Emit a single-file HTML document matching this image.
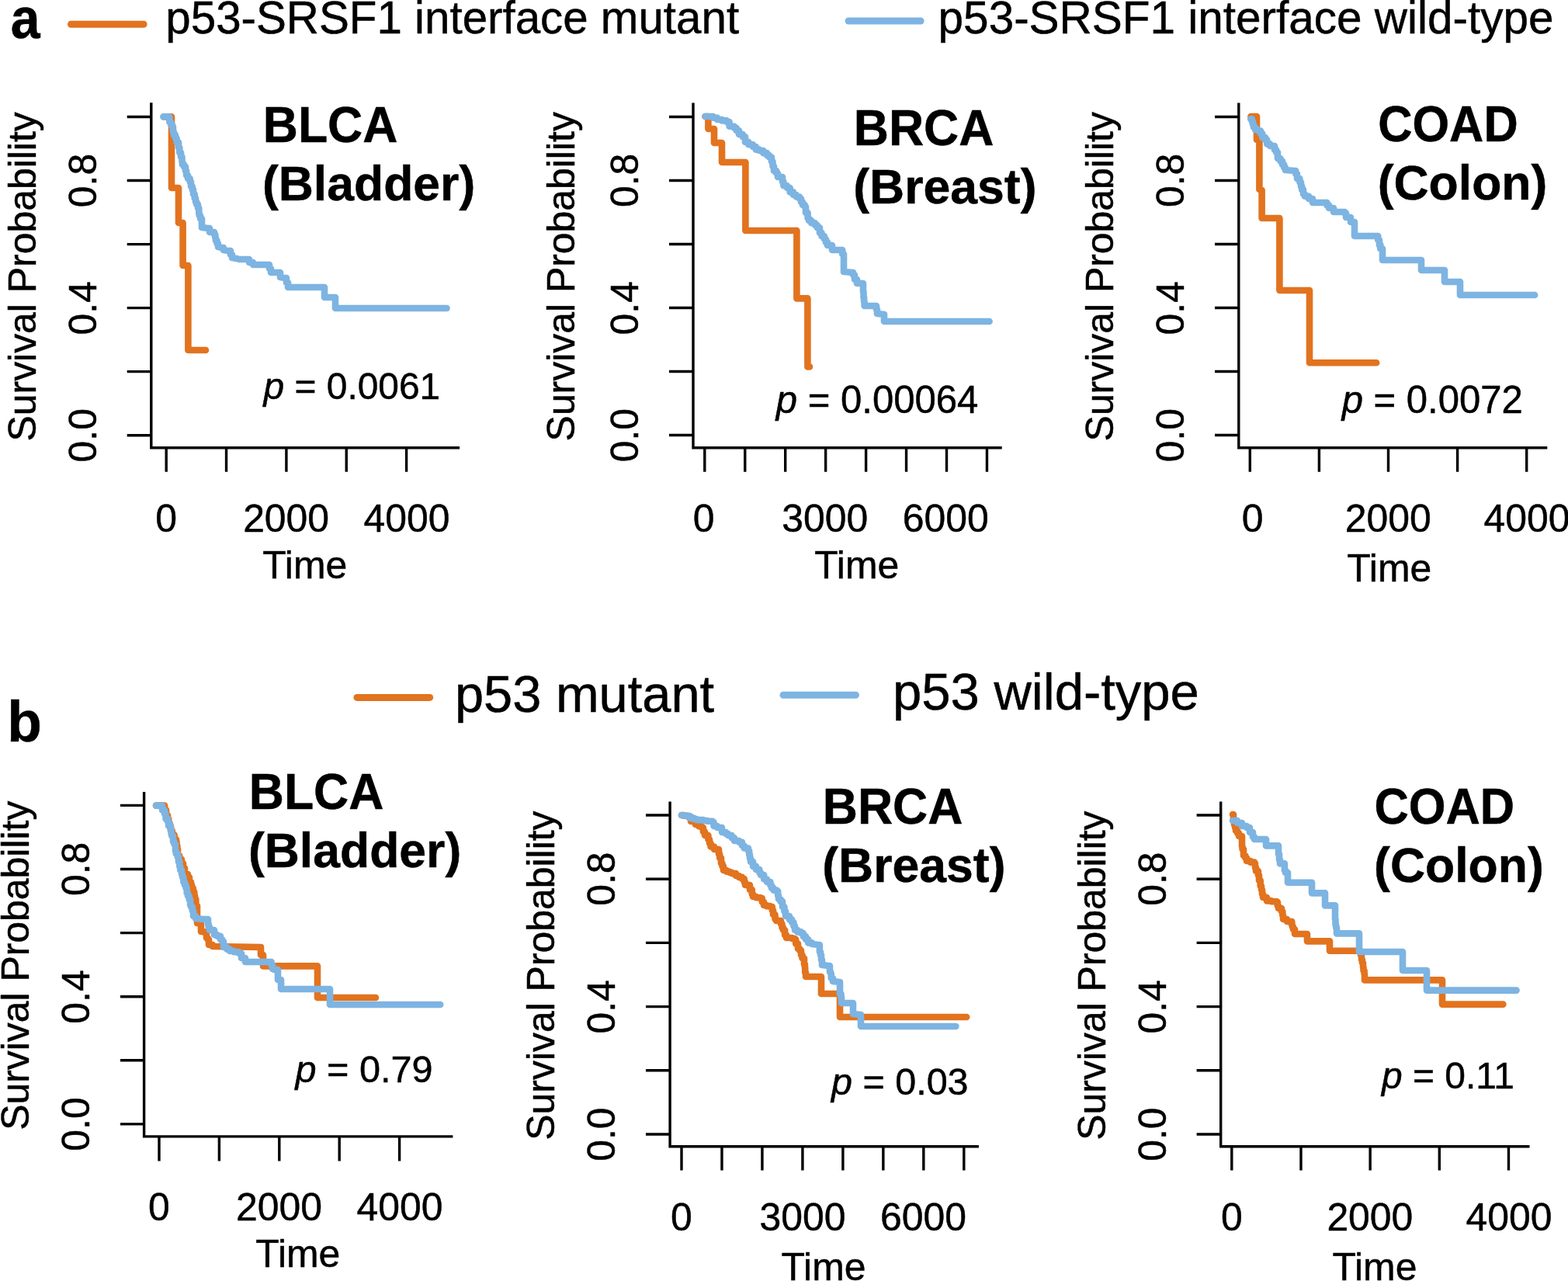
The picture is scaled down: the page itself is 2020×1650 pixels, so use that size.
<!DOCTYPE html>
<html lang="en"><head><meta charset="utf-8"><title>Survival curves</title>
<style>
html,body{margin:0;padding:0;background:#fff;}
body{width:2020px;height:1650px;overflow:hidden;}
svg{display:block;font-family:"Liberation Sans",Arial,Helvetica,sans-serif;fill:#000;}
text{stroke:#000;stroke-width:0.5px;stroke-linejoin:round;}
</style></head><body>
<svg width="2020" height="1650" viewBox="0 0 2020 1650">
<rect width="2020" height="1650" fill="#fff"/>
<text transform="translate(13.86,49.30) scale(0.92,1.0)" font-size="74.00" font-weight="700">a</text>
<line x1="91.50" y1="31.20" x2="185.10" y2="31.20" stroke="#e2731f" stroke-width="9.0" stroke-linecap="round"/>
<text x="213.31" y="43.30" font-size="58.30">p53-SRSF1 interface mutant</text>
<line x1="1093.10" y1="27.00" x2="1186.10" y2="27.00" stroke="#7db4e2" stroke-width="9.0" stroke-linecap="round"/>
<text x="1208.60" y="43.30" font-size="58.47">p53-SRSF1 interface wild-type</text>
<text transform="translate(9.36,954.50) scale(1,1.01)" font-size="73.00" font-weight="700">b</text>
<line x1="459.90" y1="898.40" x2="553.70" y2="898.40" stroke="#e2731f" stroke-width="9.0" stroke-linecap="round"/>
<text x="585.96" y="916.70" font-size="66.80">p53 mutant</text>
<line x1="1009.00" y1="895.20" x2="1102.40" y2="895.20" stroke="#7db4e2" stroke-width="9.0" stroke-linecap="round"/>
<text x="1150.04" y="913.70" font-size="67.03">p53 wild-type</text>
<polyline points="211.0,150.4 221.0,150.4 221.0,196.0 221.0,197.0 221.0,242.0 230.0,242.0 230.0,287.0 235.6,287.0 235.6,342.0 242.4,342.0 242.4,451.0 265.0,451.0" fill="none" stroke="#e2731f" stroke-width="8.6" stroke-linecap="round" stroke-linejoin="round"/>
<polyline points="210.4,150.4 216.0,150.4 218.3,150.4 218.3,157.2 220.0,157.2 220.0,160.0 221.7,160.0 221.7,163.2 223.0,163.2 223.0,170.0 224.0,170.0 224.0,173.9 226.0,173.9 226.0,178.0 227.6,178.0 227.6,183.4 230.0,183.4 230.0,190.0 231.3,190.0 231.3,196.6 233.0,196.6 233.0,202.0 234.5,202.0 234.5,208.5 235.0,208.5 235.0,212.0 237.1,212.0 237.1,214.9 239.0,214.9 239.0,220.0 240.1,220.0 240.1,225.8 242.0,225.8 242.0,230.0 244.7,230.0 244.7,234.2 246.0,234.2 246.0,240.0 247.7,240.0 247.7,244.2 249.0,244.2 249.0,250.0 250.7,250.0 250.7,255.2 252.0,255.2 252.0,260.0 253.2,260.0 253.2,263.3 255.0,263.3 255.0,268.0 256.3,268.0 256.3,275.4 257.0,275.4 257.0,278.0 258.2,278.0 258.2,281.7 260.0,281.7 260.0,288.0 260.0,293.0 268.0,294.0 270.0,294.0 270.0,299.0 276.0,299.0 276.0,302.0 277.3,302.0 277.3,306.2 278.0,306.2 278.0,310.0 279.6,310.0 279.6,313.8 281.0,313.8 281.0,318.0 286.0,319.0 288.0,319.0 288.0,322.0 294.0,323.0 297.0,323.0 297.0,328.0 299.0,328.0 299.0,332.0 305.0,333.0 308.0,334.0 318.0,334.0 321.0,334.0 321.0,338.0 326.0,338.0 326.0,341.0 344.0,341.0 347.0,341.0 347.0,346.0 349.0,346.0 349.0,351.0 359.0,351.0 361.0,351.0 361.0,357.0 367.0,358.0 369.0,358.0 369.0,364.0 371.0,364.0 371.0,370.0 418.0,370.0 418.0,383.0 432.0,383.0 432.0,397.0 575.6,397.0" fill="none" stroke="#7db4e2" stroke-width="8.6" stroke-linecap="round" stroke-linejoin="round"/>
<path d="M194.80,132.20 V576.70 H592.10 M163.70,150.50 H194.80 M163.70,232.54 H194.80 M163.70,314.58 H194.80 M163.70,396.62 H194.80 M163.70,478.66 H194.80 M163.70,560.70 H194.80 M214.20,576.70 V607.80 M291.55,576.70 V607.80 M368.90,576.70 V607.80 M446.25,576.70 V607.80 M523.60,576.70 V607.80" fill="none" stroke="#000" stroke-width="3.4" stroke-linecap="butt" stroke-linejoin="miter"/>
<text x="200.29" y="685.00" font-size="49.90">0</text>
<text x="313.14" y="685.00" font-size="49.90">2000</text>
<text x="468.52" y="685.00" font-size="49.90">4000</text>
<text x="338.18" y="745.00" font-size="49.90">Time</text>
<text transform="translate(45.80,568.50) rotate(-90)" font-size="49.90">Survival Probability</text>
<text transform="translate(123.50,267.16) rotate(-90)" font-size="49.90">0.8</text>
<text transform="translate(123.50,431.61) rotate(-90)" font-size="49.90">0.4</text>
<text transform="translate(123.50,595.44) rotate(-90)" font-size="49.90">0.0</text>
<text transform="translate(338.78,183.00) scale(1,1.04)" font-size="62.50" font-weight="700">BLCA</text>
<text x="337.88" y="257.60" font-size="62.50" font-weight="700">(Bladder)</text>
<text x="339.60" y="514.30" font-size="47.87" xml:space="preserve"><tspan font-style="italic">p</tspan> = 0.0061</text>
<polyline points="908.4,150.0 912.4,150.0 912.4,166.0 920.0,166.0 920.0,184.0 930.0,184.0 930.0,209.0 960.4,209.0 960.4,297.0 1026.4,297.0 1026.4,384.4 1040.4,384.4 1040.4,472.4 1043.0,472.4" fill="none" stroke="#e2731f" stroke-width="8.6" stroke-linecap="round" stroke-linejoin="round"/>
<polyline points="908.4,150.0 916.0,150.0 918.8,150.0 918.8,151.7 924.0,151.7 924.0,154.0 929.9,154.0 929.9,155.4 936.0,155.4 936.0,157.0 939.6,157.0 939.6,162.8 946.0,162.8 946.0,165.0 948.8,165.0 948.8,168.3 952.0,168.3 952.0,173.0 956.8,173.0 956.8,176.2 960.0,176.2 960.0,183.0 964.4,183.0 964.4,186.3 970.0,186.3 970.0,189.0 973.8,189.0 973.8,192.6 978.0,192.6 978.0,194.0 983.3,194.0 983.3,197.1 988.0,197.1 988.0,200.0 991.0,200.0 991.0,202.5 994.0,202.5 994.0,208.0 995.5,208.0 995.5,214.3 997.0,214.3 997.0,220.0 1000.2,220.0 1000.2,223.3 1002.0,223.3 1002.0,228.0 1008.0,228.0 1008.0,234.0 1009.4,234.0 1009.4,239.3 1014.0,239.3 1014.0,242.0 1017.7,242.0 1017.7,247.4 1022.0,247.4 1022.0,251.0 1025.8,251.0 1025.8,253.5 1030.0,253.5 1030.0,256.0 1032.0,256.0 1032.0,260.2 1034.0,260.2 1034.0,264.0 1036.8,264.0 1036.8,266.2 1038.0,266.2 1038.0,274.0 1040.6,274.0 1040.6,281.0 1042.0,281.0 1042.0,284.0 1045.2,284.0 1045.2,287.2 1050.0,287.2 1050.0,290.0 1052.8,290.0 1052.8,293.2 1056.0,293.2 1056.0,300.0 1058.6,300.0 1058.6,304.3 1062.0,304.3 1062.0,308.0 1063.9,308.0 1063.9,312.1 1066.0,312.1 1066.0,316.0 1072.0,316.0 1072.0,322.0 1082.0,322.0 1084.0,322.0 1085.2,322.0 1085.2,327.2 1087.0,327.2 1087.0,330.0 1087.0,350.0 1098.0,351.0 1099.1,351.0 1099.1,354.3 1101.0,354.3 1101.0,360.0 1104.0,360.0 1104.0,365.0 1112.0,365.0 1112.0,376.0 1112.5,376.0 1112.5,382.9 1113.1,382.9 1113.1,388.4 1113.6,388.4 1113.6,394.0 1128.0,394.0 1129.0,394.0 1129.0,398.4 1130.0,398.4 1130.0,404.0 1139.0,405.0 1139.0,414.0 1274.6,414.0" fill="none" stroke="#7db4e2" stroke-width="8.6" stroke-linecap="round" stroke-linejoin="round"/>
<path d="M893.00,132.40 V576.70 H1290.70 M862.00,150.50 H893.00 M862.00,232.50 H893.00 M862.00,314.50 H893.00 M862.00,396.50 H893.00 M862.00,478.50 H893.00 M862.00,560.50 H893.00 M907.80,576.70 V607.80 M959.75,576.70 V607.80 M1011.70,576.70 V607.80 M1063.65,576.70 V607.80 M1115.60,576.70 V607.80 M1167.55,576.70 V607.80 M1219.50,576.70 V607.80 M1271.45,576.70 V607.80" fill="none" stroke="#000" stroke-width="3.4" stroke-linecap="butt" stroke-linejoin="miter"/>
<text x="892.69" y="685.00" font-size="49.90">0</text>
<text x="1007.20" y="685.00" font-size="49.90">3000</text>
<text x="1162.74" y="685.00" font-size="49.90">6000</text>
<text x="1049.18" y="745.00" font-size="49.90">Time</text>
<text transform="translate(739.80,568.40) rotate(-90)" font-size="49.90">Survival Probability</text>
<text transform="translate(821.50,267.12) rotate(-90)" font-size="49.90">0.8</text>
<text transform="translate(821.50,431.49) rotate(-90)" font-size="49.90">0.4</text>
<text transform="translate(821.50,595.24) rotate(-90)" font-size="49.90">0.0</text>
<text transform="translate(1099.78,187.00) scale(1,1.03)" font-size="62.50" font-weight="700">BRCA</text>
<text x="1099.28" y="262.20" font-size="62.50" font-weight="700">(Breast)</text>
<text x="999.83" y="531.60" font-size="49.07" xml:space="preserve"><tspan font-style="italic">p</tspan> = 0.00064</text>
<polyline points="1611.4,150.0 1619.0,150.0 1619.0,180.0 1622.4,180.0 1622.4,244.0 1625.6,245.0 1625.6,281.0 1648.4,281.0 1648.4,374.0 1687.0,374.0 1687.0,467.2 1773.2,467.2" fill="none" stroke="#e2731f" stroke-width="8.6" stroke-linecap="round" stroke-linejoin="round"/>
<polyline points="1611.2,153.2 1612.9,153.2 1612.9,156.4 1614.0,156.4 1614.0,160.0 1614.9,160.0 1614.9,163.7 1617.0,163.7 1617.0,167.0 1621.0,167.0 1621.0,168.6 1624.0,168.6 1624.0,172.0 1626.2,172.0 1626.2,177.1 1630.0,177.1 1630.0,180.0 1632.2,180.0 1632.2,185.4 1636.0,185.4 1636.0,188.0 1642.0,188.0 1642.0,193.0 1644.1,193.0 1644.1,196.3 1646.0,196.3 1646.0,204.0 1649.4,204.0 1649.4,207.5 1652.0,207.5 1652.0,212.0 1654.3,212.0 1654.3,216.0 1656.0,216.0 1656.0,219.0 1668.0,220.0 1669.2,220.0 1669.2,223.9 1671.0,223.9 1671.0,230.0 1674.4,230.0 1674.4,234.8 1676.0,234.8 1676.0,240.0 1677.2,240.0 1677.2,244.4 1679.0,244.4 1679.0,250.0 1680.9,250.0 1680.9,252.8 1686.0,252.8 1686.0,256.0 1691.0,256.0 1691.0,261.0 1708.0,261.0 1709.5,261.0 1709.5,264.4 1712.0,264.4 1712.0,268.0 1718.0,268.0 1718.0,273.0 1730.0,273.0 1732.4,273.0 1732.4,274.6 1734.0,274.6 1734.0,280.0 1740.0,280.0 1740.0,286.0 1745.0,286.0 1745.0,292.0 1745.0,304.0 1774.0,304.0 1775.3,304.0 1775.3,309.3 1777.0,309.3 1777.0,316.0 1777.0,315.0 1778.3,315.0 1778.3,320.4 1781.0,320.4 1781.0,326.0 1781.0,335.0 1831.0,335.0 1831.0,348.0 1861.0,348.0 1861.0,363.0 1881.0,363.0 1881.0,380.0 1977.2,380.0" fill="none" stroke="#7db4e2" stroke-width="8.6" stroke-linecap="round" stroke-linejoin="round"/>
<path d="M1595.80,132.40 V576.70 H1993.30 M1565.00,150.50 H1595.80 M1565.00,232.50 H1595.80 M1565.00,314.50 H1595.80 M1565.00,396.50 H1595.80 M1565.00,478.50 H1595.80 M1565.00,560.50 H1595.80 M1610.30,576.70 V607.80 M1699.40,576.70 V607.80 M1788.50,576.70 V607.80 M1877.60,576.70 V607.80 M1966.70,576.70 V607.80" fill="none" stroke="#000" stroke-width="3.4" stroke-linecap="butt" stroke-linejoin="miter"/>
<text x="1599.79" y="685.00" font-size="49.90">0</text>
<text x="1732.74" y="685.00" font-size="49.90">2000</text>
<text x="1911.62" y="685.00" font-size="49.90">4000</text>
<text x="1735.18" y="749.00" font-size="49.90">Time</text>
<text transform="translate(1433.80,568.40) rotate(-90)" font-size="49.90">Survival Probability</text>
<text transform="translate(1524.60,267.12) rotate(-90)" font-size="49.90">0.8</text>
<text transform="translate(1524.60,431.49) rotate(-90)" font-size="49.90">0.4</text>
<text transform="translate(1524.60,595.24) rotate(-90)" font-size="49.90">0.0</text>
<text transform="translate(1775.15,181.80) scale(1,1.065)" font-size="61.31" font-weight="700">COAD</text>
<text x="1774.67" y="256.80" font-size="62.50" font-weight="700">(Colon)</text>
<text x="1728.63" y="531.60" font-size="49.06" xml:space="preserve"><tspan font-style="italic">p</tspan> = 0.0072</text>
<polyline points="201.0,1037.6 209.6,1037.6 212.1,1037.6 212.1,1043.2 214.0,1043.2 214.0,1050.0 216.0,1050.0 216.0,1054.8 217.2,1054.8 217.2,1060.6 218.7,1060.6 218.7,1065.1 220.0,1065.1 220.0,1070.0 221.8,1070.0 221.8,1075.5 224.7,1075.5 224.7,1081.3 227.0,1081.3 227.0,1084.0 227.5,1084.0 227.5,1089.0 228.3,1089.0 228.3,1093.9 229.0,1093.9 229.0,1102.0 231.1,1102.0 231.1,1106.8 233.9,1106.8 233.9,1112.1 236.0,1112.1 236.0,1118.0 237.9,1118.0 237.9,1126.1 242.0,1126.1 242.0,1130.0 244.0,1130.0 244.0,1136.3 246.1,1136.3 246.1,1139.9 247.0,1139.9 247.0,1144.0 248.8,1144.0 248.8,1148.7 250.3,1148.7 250.3,1153.9 251.0,1153.9 251.0,1158.0 252.3,1158.0 252.3,1166.9 254.0,1166.9 254.0,1170.0 254.0,1189.0 259.0,1190.0 259.0,1200.0 262.7,1200.0 262.7,1200.7 266.0,1200.7 266.0,1202.0 266.0,1208.0 267.6,1208.0 267.6,1210.1 269.0,1210.1 269.0,1217.0 274.0,1217.0 274.0,1219.0 336.0,1220.0 336.0,1230.0 339.0,1230.0 339.0,1233.0 339.0,1244.4 409.0,1244.4 409.0,1285.0 484.0,1285.0" fill="none" stroke="#e2731f" stroke-width="8.6" stroke-linecap="round" stroke-linejoin="round"/>
<polyline points="201.0,1037.6 208.0,1037.6 209.0,1037.6 209.0,1043.5 212.0,1043.5 212.0,1048.0 213.5,1048.0 213.5,1054.6 216.0,1054.6 216.0,1058.0 217.1,1058.0 217.1,1063.6 220.0,1063.6 220.0,1070.0 220.7,1070.0 220.7,1074.4 221.3,1074.4 221.3,1076.7 223.0,1076.7 223.0,1084.0 224.4,1084.0 224.4,1087.2 226.0,1087.2 226.0,1096.0 226.7,1096.0 226.7,1099.4 228.7,1099.4 228.7,1103.8 230.0,1103.8 230.0,1110.0 231.3,1110.0 231.3,1116.0 232.2,1116.0 232.2,1120.8 234.0,1120.8 234.0,1126.0 235.0,1126.0 235.0,1129.8 236.4,1129.8 236.4,1136.3 238.0,1136.3 238.0,1140.0 239.6,1140.0 239.6,1143.9 240.7,1143.9 240.7,1150.2 242.0,1150.2 242.0,1154.0 243.7,1154.0 243.7,1158.5 245.1,1158.5 245.1,1165.5 246.0,1165.5 246.0,1168.0 247.8,1168.0 247.8,1173.0 249.0,1173.0 249.0,1180.0 252.0,1180.0 252.0,1183.0 262.0,1184.0 268.0,1184.0 268.0,1190.0 268.7,1190.0 268.7,1194.1 270.0,1194.1 270.0,1198.0 276.0,1198.0 276.0,1204.0 279.7,1204.0 279.7,1205.7 284.0,1205.7 284.0,1210.0 286.2,1210.0 286.2,1212.7 288.0,1212.7 288.0,1220.0 292.4,1220.0 292.4,1222.6 296.0,1222.6 296.0,1225.0 301.3,1225.0 301.3,1226.2 308.0,1226.2 308.0,1228.0 311.0,1228.0 311.0,1234.0 316.0,1234.0 316.0,1239.0 349.0,1239.0 349.6,1239.0 349.6,1243.3 351.0,1243.3 351.0,1248.0 353.3,1248.0 353.3,1249.0 358.0,1249.0 358.0,1250.0 358.0,1262.0 362.0,1262.0 362.0,1266.0 362.0,1274.0 425.0,1274.0 425.0,1294.0 567.2,1294.0" fill="none" stroke="#7db4e2" stroke-width="8.6" stroke-linecap="round" stroke-linejoin="round"/>
<path d="M185.60,1020.00 V1463.90 H583.40 M155.00,1037.40 H185.60 M155.00,1119.50 H185.60 M155.00,1201.60 H185.60 M155.00,1283.70 H185.60 M155.00,1365.80 H185.60 M155.00,1447.90 H185.60 M205.00,1463.90 V1495.50 M282.40,1463.90 V1495.50 M359.80,1463.90 V1495.50 M437.20,1463.90 V1495.50 M514.60,1463.90 V1495.50" fill="none" stroke="#000" stroke-width="3.4" stroke-linecap="butt" stroke-linejoin="miter"/>
<text x="191.09" y="1572.30" font-size="49.90">0</text>
<text x="304.04" y="1572.30" font-size="49.90">2000</text>
<text x="459.52" y="1572.30" font-size="49.90">4000</text>
<text x="329.28" y="1631.70" font-size="49.90">Time</text>
<text transform="translate(37.10,1455.85) rotate(-90)" font-size="49.90">Survival Probability</text>
<text transform="translate(115.00,1154.12) rotate(-90)" font-size="49.90">0.8</text>
<text transform="translate(115.00,1318.69) rotate(-90)" font-size="49.90">0.4</text>
<text transform="translate(115.00,1482.64) rotate(-90)" font-size="49.90">0.0</text>
<text transform="translate(320.78,1042.00) scale(1,1.04)" font-size="62.50" font-weight="700">BLCA</text>
<text x="319.88" y="1117.10" font-size="62.50" font-weight="700">(Bladder)</text>
<text x="380.42" y="1393.60" font-size="48.66" xml:space="preserve"><tspan font-style="italic">p</tspan> = 0.79</text>
<polyline points="878.0,1050.0 880.9,1050.0 880.9,1050.7 886.0,1050.7 886.0,1052.0 890.0,1052.0 890.0,1058.0 896.0,1058.0 896.0,1062.0 900.1,1062.0 900.1,1064.1 904.0,1064.1 904.0,1066.0 905.9,1066.0 905.9,1071.2 908.0,1071.2 908.0,1076.0 912.4,1076.0 912.4,1081.2 914.0,1081.2 914.0,1086.0 915.5,1086.0 915.5,1090.5 920.0,1090.5 920.0,1094.0 926.0,1094.0 926.0,1100.0 927.1,1100.0 927.1,1105.0 929.0,1105.0 929.0,1112.0 930.5,1112.0 930.5,1115.9 932.0,1115.9 932.0,1121.0 936.0,1121.0 936.0,1122.8 940.0,1122.8 940.0,1124.0 943.2,1124.0 943.2,1125.1 948.0,1125.1 948.0,1128.0 951.9,1128.0 951.9,1129.9 956.0,1129.9 956.0,1132.0 958.8,1132.0 958.8,1136.1 960.0,1136.1 960.0,1140.0 966.0,1140.0 966.0,1146.0 968.8,1146.0 968.8,1151.8 970.0,1151.8 970.0,1155.0 974.1,1155.0 974.1,1156.3 980.0,1156.3 980.0,1157.0 981.8,1157.0 981.8,1161.8 984.0,1161.8 984.0,1166.0 987.6,1166.0 987.6,1167.1 992.0,1167.1 992.0,1168.0 994.8,1168.0 994.8,1172.5 996.0,1172.5 996.0,1178.0 998.5,1178.0 998.5,1183.7 1000.0,1183.7 1000.0,1186.0 1006.0,1186.0 1006.0,1190.0 1007.5,1190.0 1007.5,1194.9 1009.0,1194.9 1009.0,1198.0 1011.1,1198.0 1011.1,1204.4 1013.0,1204.4 1013.0,1208.0 1020.6,1208.0 1020.6,1209.0 1024.0,1209.0 1024.0,1210.0 1025.2,1210.0 1025.2,1215.6 1028.0,1215.6 1028.0,1222.0 1030.3,1222.0 1030.3,1224.4 1032.0,1224.4 1032.0,1230.0 1033.5,1230.0 1033.5,1234.3 1036.0,1234.3 1036.0,1242.0 1036.9,1242.0 1036.9,1246.4 1037.2,1246.4 1037.2,1252.6 1038.0,1252.6 1038.0,1258.0 1058.0,1258.0 1058.0,1280.0 1082.0,1280.0 1082.0,1310.0 1245.2,1310.0" fill="none" stroke="#e2731f" stroke-width="8.6" stroke-linecap="round" stroke-linejoin="round"/>
<polyline points="878.0,1050.0 886.0,1051.0 888.5,1051.0 888.5,1053.8 894.0,1053.8 894.0,1055.0 897.5,1055.0 897.5,1056.1 906.0,1056.1 906.0,1057.0 911.0,1057.0 911.0,1057.7 918.0,1057.7 918.0,1059.0 919.5,1059.0 919.5,1064.0 924.0,1064.0 924.0,1066.0 930.0,1066.0 930.0,1072.0 935.3,1072.0 935.3,1074.0 938.0,1074.0 938.0,1076.0 942.7,1076.0 942.7,1079.3 946.0,1079.3 946.0,1083.0 952.1,1083.0 952.1,1084.7 956.0,1084.7 956.0,1089.0 958.6,1089.0 958.6,1092.5 964.0,1092.5 964.0,1096.0 965.2,1096.0 965.2,1100.9 966.0,1100.9 966.0,1105.6 967.0,1105.6 967.0,1110.0 970.1,1110.0 970.1,1115.9 974.0,1115.9 974.0,1120.0 978.4,1120.0 978.4,1124.0 980.0,1124.0 980.0,1127.0 984.2,1127.0 984.2,1132.5 988.0,1132.5 988.0,1136.0 992.4,1136.0 992.4,1140.3 994.0,1140.3 994.0,1144.0 996.6,1144.0 996.6,1146.7 1001.0,1146.7 1001.0,1148.0 1002.2,1148.0 1002.2,1153.5 1003.0,1153.5 1003.0,1158.0 1005.5,1158.0 1005.5,1161.1 1008.0,1161.1 1008.0,1168.0 1010.4,1168.0 1010.4,1173.8 1012.0,1173.8 1012.0,1180.0 1017.0,1180.0 1017.0,1184.4 1020.0,1184.4 1020.0,1188.0 1022.4,1188.0 1022.4,1192.9 1024.0,1192.9 1024.0,1198.0 1027.4,1198.0 1027.4,1200.4 1032.0,1200.4 1032.0,1202.0 1034.8,1202.0 1034.8,1206.1 1038.0,1206.1 1038.0,1210.0 1041.2,1210.0 1041.2,1214.4 1046.0,1214.4 1046.0,1216.0 1055.0,1217.0 1055.9,1217.0 1055.9,1225.9 1057.0,1225.9 1057.0,1230.0 1058.0,1230.0 1058.0,1236.3 1059.0,1236.3 1059.0,1243.0 1068.0,1244.0 1069.0,1244.0 1069.0,1251.7 1070.0,1251.7 1070.0,1254.0 1070.8,1254.0 1070.8,1260.0 1073.0,1260.0 1073.0,1264.0 1082.0,1265.0 1082.0,1280.0 1083.5,1280.0 1083.5,1284.4 1084.0,1284.4 1084.0,1292.0 1099.0,1292.0 1099.0,1306.0 1109.0,1307.0 1109.0,1322.0 1231.4,1322.0" fill="none" stroke="#7db4e2" stroke-width="8.6" stroke-linecap="round" stroke-linejoin="round"/>
<path d="M863.10,1032.40 V1476.70 H1260.90 M832.00,1050.00 H863.10 M832.00,1132.20 H863.10 M832.00,1214.40 H863.10 M832.00,1296.60 H863.10 M832.00,1378.80 H863.10 M832.00,1461.00 H863.10 M878.00,1476.70 V1507.40 M929.97,1476.70 V1507.40 M981.94,1476.70 V1507.40 M1033.91,1476.70 V1507.40 M1085.88,1476.70 V1507.40 M1137.85,1476.70 V1507.40 M1189.82,1476.70 V1507.40 M1241.79,1476.70 V1507.40" fill="none" stroke="#000" stroke-width="3.4" stroke-linecap="butt" stroke-linejoin="miter"/>
<text x="864.09" y="1584.70" font-size="49.90">0</text>
<text x="978.46" y="1584.70" font-size="49.90">3000</text>
<text x="1134.06" y="1584.70" font-size="49.90">6000</text>
<text x="1006.48" y="1649.00" font-size="49.90">Time</text>
<text transform="translate(714.30,1468.70) rotate(-90)" font-size="49.90">Survival Probability</text>
<text transform="translate(792.00,1166.82) rotate(-90)" font-size="49.90">0.8</text>
<text transform="translate(792.00,1331.59) rotate(-90)" font-size="49.90">0.4</text>
<text transform="translate(792.00,1495.74) rotate(-90)" font-size="49.90">0.0</text>
<text transform="translate(1059.78,1060.90) scale(1,1.03)" font-size="62.50" font-weight="700">BRCA</text>
<text x="1059.28" y="1136.00" font-size="62.50" font-weight="700">(Breast)</text>
<text x="1071.01" y="1410.10" font-size="48.49" xml:space="preserve"><tspan font-style="italic">p</tspan> = 0.03</text>
<polyline points="1588.0,1049.0 1589.0,1049.0 1589.0,1057.9 1590.0,1057.9 1590.0,1062.0 1591.0,1062.0 1591.0,1065.7 1592.0,1065.7 1592.0,1070.0 1594.2,1070.0 1594.2,1073.3 1596.0,1073.3 1596.0,1077.0 1600.0,1077.0 1600.0,1079.0 1600.0,1090.0 1600.5,1090.0 1600.5,1093.8 1602.0,1093.8 1602.0,1102.0 1604.4,1102.0 1604.4,1105.1 1606.0,1105.1 1606.0,1109.0 1610.8,1109.0 1610.8,1110.6 1616.0,1110.6 1616.0,1112.0 1617.0,1112.0 1617.0,1117.6 1618.0,1117.6 1618.0,1122.0 1620.9,1122.0 1620.9,1127.3 1622.0,1127.3 1622.0,1134.0 1623.7,1134.0 1623.7,1141.2 1625.0,1141.2 1625.0,1146.0 1626.0,1146.0 1626.0,1151.5 1627.0,1151.5 1627.0,1156.0 1632.0,1156.0 1632.0,1160.4 1637.9,1160.4 1637.9,1161.3 1645.0,1161.3 1645.0,1162.0 1645.9,1162.0 1645.9,1166.8 1647.0,1166.8 1647.0,1170.0 1651.0,1170.0 1651.0,1174.0 1652.3,1174.0 1652.3,1179.1 1653.0,1179.1 1653.0,1184.0 1658.0,1184.0 1658.0,1187.0 1663.0,1187.0 1664.3,1187.0 1664.3,1191.7 1665.0,1191.7 1665.0,1194.0 1666.0,1194.0 1666.0,1197.0 1668.0,1197.0 1668.0,1203.0 1684.0,1203.0 1684.0,1212.4 1713.0,1212.4 1713.0,1224.8 1751.0,1224.8 1752.8,1224.8 1752.8,1229.6 1754.0,1229.6 1754.0,1236.0 1754.9,1236.0 1754.9,1240.0 1756.0,1240.0 1756.0,1246.0 1756.5,1246.0 1756.5,1250.2 1757.6,1250.2 1757.6,1254.6 1758.0,1254.6 1758.0,1262.4 1858.0,1262.4 1858.0,1293.6 1936.4,1293.6" fill="none" stroke="#e2731f" stroke-width="8.6" stroke-linecap="round" stroke-linejoin="round"/>
<polyline points="1588.0,1057.0 1594.0,1057.0 1594.0,1060.0 1600.0,1060.0 1600.0,1064.0 1606.0,1064.0 1606.0,1066.0 1610.0,1066.0 1610.0,1072.0 1614.0,1072.0 1614.0,1078.0 1616.0,1078.0 1616.0,1081.0 1631.0,1081.0 1631.0,1089.4 1647.0,1089.4 1647.0,1100.0 1648.0,1100.0 1648.0,1107.4 1649.0,1107.4 1649.0,1112.4 1654.0,1112.4 1654.9,1112.4 1654.9,1120.9 1656.0,1120.9 1656.0,1124.0 1659.0,1124.0 1659.0,1130.0 1659.0,1136.8 1690.0,1136.8 1690.0,1150.4 1707.0,1150.4 1707.0,1166.4 1720.0,1166.4 1720.0,1184.0 1720.5,1184.0 1720.5,1191.2 1721.2,1191.2 1721.2,1194.8 1722.0,1194.8 1722.0,1202.4 1751.0,1202.4 1751.0,1226.0 1807.0,1226.0 1807.0,1250.0 1838.0,1250.0 1838.0,1275.6 1953.6,1275.6" fill="none" stroke="#7db4e2" stroke-width="8.6" stroke-linecap="round" stroke-linejoin="round"/>
<path d="M1572.70,1032.40 V1476.70 H1970.50 M1541.60,1050.00 H1572.70 M1541.60,1132.20 H1572.70 M1541.60,1214.40 H1572.70 M1541.60,1296.60 H1572.70 M1541.60,1378.80 H1572.70 M1541.60,1461.00 H1572.70 M1586.80,1476.70 V1507.40 M1675.97,1476.70 V1507.40 M1765.14,1476.70 V1507.40 M1854.31,1476.70 V1507.40 M1943.48,1476.70 V1507.40" fill="none" stroke="#000" stroke-width="3.4" stroke-linecap="butt" stroke-linejoin="miter"/>
<text x="1572.89" y="1584.70" font-size="49.90">0</text>
<text x="1709.38" y="1584.70" font-size="49.90">2000</text>
<text x="1888.40" y="1584.70" font-size="49.90">4000</text>
<text x="1716.38" y="1649.00" font-size="49.90">Time</text>
<text transform="translate(1424.00,1468.70) rotate(-90)" font-size="49.90">Survival Probability</text>
<text transform="translate(1502.00,1166.82) rotate(-90)" font-size="49.90">0.8</text>
<text transform="translate(1502.00,1331.59) rotate(-90)" font-size="49.90">0.4</text>
<text transform="translate(1502.00,1495.74) rotate(-90)" font-size="49.90">0.0</text>
<text transform="translate(1770.44,1061.00) scale(1,1.065)" font-size="61.41" font-weight="700">COAD</text>
<text x="1770.08" y="1136.00" font-size="62.50" font-weight="700">(Colon)</text>
<text x="1779.90" y="1402.00" font-size="47.97" xml:space="preserve"><tspan font-style="italic">p</tspan> = 0.11</text>
</svg>
</body></html>
